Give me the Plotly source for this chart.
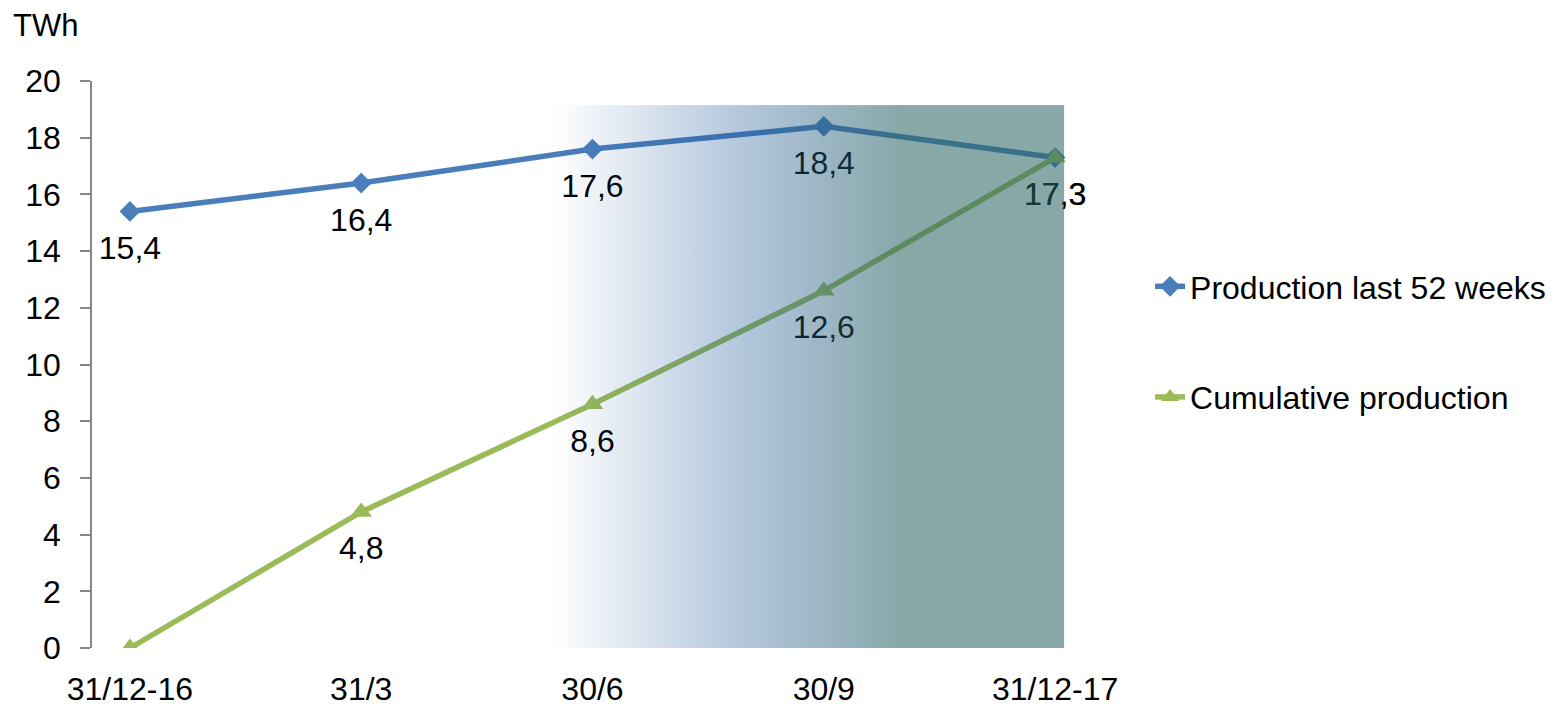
import base64
import plotly.graph_objects as go

categories = ["31/12-16", "31/3", "30/6", "30/9", "31/12-17"]
production_52w = [15.4, 16.4, 17.6, 18.4, 17.3]
cumulative = [0.0, 4.8, 8.6, 12.6, 17.3]
series_names = ["Production last 52 weeks", "Cumulative production"]
y_ticks = [0, 2, 4, 6, 8, 10, 12, 14, 16, 18, 20]
unit_label = "TWh"

FONT = "Liberation Sans, Arial, sans-serif"
FS = 32
BLUE = "#4A7EBB"
GREEN = "#9BBB59"

x = list(range(len(categories)))

def fmt(v):
    return f"{v:.1f}".replace(".", ",") if v != 0 else ""

fig = go.Figure()

fig.add_trace(go.Scatter(
    x=x, y=production_52w, mode="lines+markers", name=series_names[0],
    line=dict(color=BLUE, width=5.5),
    marker=dict(symbol="diamond", size=16, color=BLUE),
    legendgroup="a",
))
fig.add_trace(go.Scatter(
    x=x, y=cumulative, mode="lines+markers", name=series_names[1],
    line=dict(color=GREEN, width=5.5),
    marker=dict(symbol="triangle-up", size=19, color=GREEN),
    legendgroup="b",
))
# data labels (transparent large markers push text below the point)
for vals in (production_52w, cumulative):
    fig.add_trace(go.Scatter(
        x=x, y=vals, mode="markers+text",
        text=[fmt(v) for v in vals], textposition="bottom center",
        textfont=dict(family=FONT, size=FS, color="#000000"),
        marker=dict(size=36, color="rgba(0,0,0,0)"),
        showlegend=False, hoverinfo="skip",
    ))

# gradient overlay (SVG image) drawn above the series
x0, x1, ytop = 1.83, 4.04, 19.15
svg = (
    '<svg xmlns="http://www.w3.org/2000/svg" width="500" height="500" '
    'preserveAspectRatio="none" viewBox="0 0 500 500">'
    '<defs><linearGradient id="g" x1="0" y1="0" x2="1" y2="0">'
    '<stop offset="0" stop-color="rgb(20,80,150)" stop-opacity="0"/>'
    '<stop offset="0.34" stop-color="rgb(20,80,150)" stop-opacity="0.30"/>'
    '<stop offset="0.68" stop-color="rgb(43,100,100)" stop-opacity="0.56"/>'
    '<stop offset="1" stop-color="rgb(43,100,100)" stop-opacity="0.56"/>'
    '</linearGradient></defs>'
    '<rect x="0" y="0" width="500" height="500" fill="url(#g)"/></svg>'
)
src = "data:image/svg+xml;base64," + base64.b64encode(svg.encode()).decode()

fig.update_layout(
    width=1555, height=704,
    margin=dict(l=84, r=467, t=73, b=64),
    paper_bgcolor="white", plot_bgcolor="white",
    font=dict(family=FONT, size=FS, color="#000000"),
    images=[dict(
        source=src, xref="x", yref="y", x=x0, y=ytop,
        sizex=x1 - x0, sizey=ytop, sizing="stretch",
        xanchor="left", yanchor="top", layer="above",
    )],
    showlegend=True,
    legend=dict(
        x=1.057, y=0.686, xanchor="left", yanchor="top",
        font=dict(family=FONT, size=FS), tracegroupgap=66,
        bgcolor="rgba(0,0,0,0)",
    ),
    annotations=[dict(
        text=unit_label, xref="paper", yref="paper", x=-0.081, y=1.0,
        xanchor="left", yanchor="bottom", yshift=36, showarrow=False,
        font=dict(family=FONT, size=FS - 1),
    )],
)
fig.update_xaxes(
    range=[-0.164, 4.164], tickvals=x, ticktext=categories,
    showgrid=False, zeroline=False, showline=False, ticks="",
    ticklabelstandoff=19, automargin=False,
)
fig.update_yaxes(
    range=[0, 20], tickvals=y_ticks, showgrid=False, zeroline=False,
    showline=True, linecolor="#868686", linewidth=1.5,
    ticks="outside", ticklen=10, tickcolor="#868686", tickwidth=1.5,
    ticklabelstandoff=13, automargin=False,
)

fig.write_html("out.html")
